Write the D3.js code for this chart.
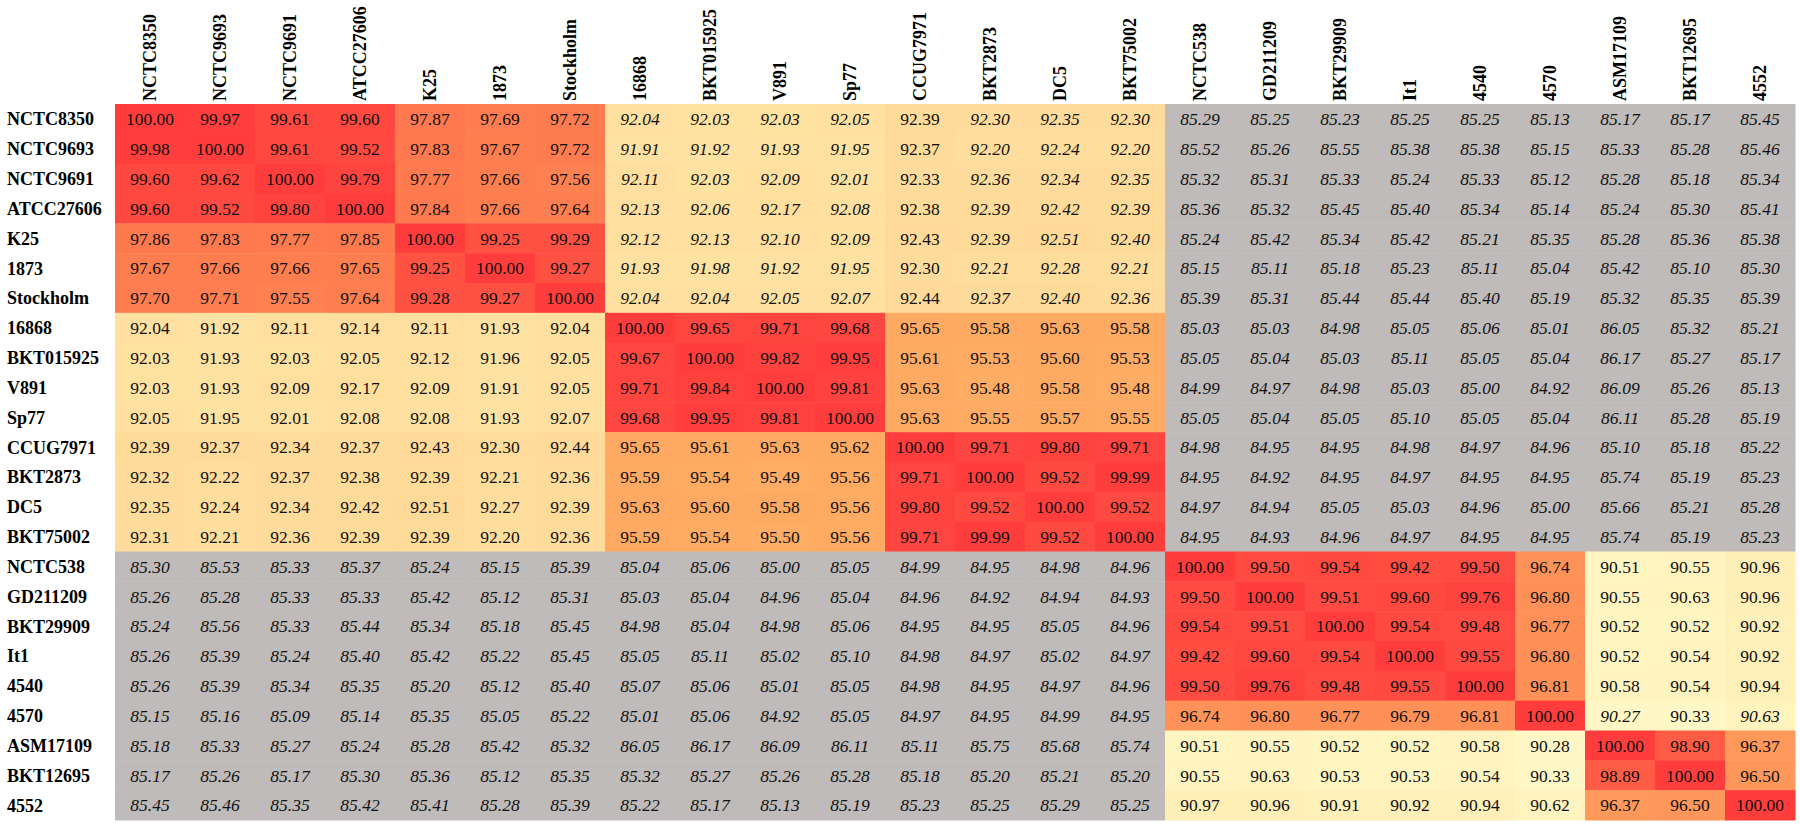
<!DOCTYPE html>
<html>
<head>
<meta charset="utf-8">
<script src="https://cdn.jsdelivr.net/npm/d3@7"></script>
<style>
  body { margin: 0; background: #fff; }
  svg { display: block; }
</style>
</head>
<body>
<svg id="heat" width="1800" height="828"></svg>
<script>
// strain names, same order on both axes
var strains = ["NCTC8350", "NCTC9693", "NCTC9691", "ATCC27606", "K25", "1873", "Stockholm",
  "16868", "BKT015925", "V891", "Sp77", "CCUG7971", "BKT2873", "DC5", "BKT75002",
  "NCTC538", "GD211209", "BKT29909", "It1", "4540", "4570", "ASM17109", "BKT12695", "4552"];

// ANI values (%), one row per strain
var ani = [
  [100.00, 99.97, 99.61, 99.60, 97.87, 97.69, 97.72, 92.04, 92.03, 92.03, 92.05, 92.39, 92.30, 92.35, 92.30, 85.29, 85.25, 85.23, 85.25, 85.25, 85.13, 85.17, 85.17, 85.45],
  [99.98, 100.00, 99.61, 99.52, 97.83, 97.67, 97.72, 91.91, 91.92, 91.93, 91.95, 92.37, 92.20, 92.24, 92.20, 85.52, 85.26, 85.55, 85.38, 85.38, 85.15, 85.33, 85.28, 85.46],
  [99.60, 99.62, 100.00, 99.79, 97.77, 97.66, 97.56, 92.11, 92.03, 92.09, 92.01, 92.33, 92.36, 92.34, 92.35, 85.32, 85.31, 85.33, 85.24, 85.33, 85.12, 85.28, 85.18, 85.34],
  [99.60, 99.52, 99.80, 100.00, 97.84, 97.66, 97.64, 92.13, 92.06, 92.17, 92.08, 92.38, 92.39, 92.42, 92.39, 85.36, 85.32, 85.45, 85.40, 85.34, 85.14, 85.24, 85.30, 85.41],
  [97.86, 97.83, 97.77, 97.85, 100.00, 99.25, 99.29, 92.12, 92.13, 92.10, 92.09, 92.43, 92.39, 92.51, 92.40, 85.24, 85.42, 85.34, 85.42, 85.21, 85.35, 85.28, 85.36, 85.38],
  [97.67, 97.66, 97.66, 97.65, 99.25, 100.00, 99.27, 91.93, 91.98, 91.92, 91.95, 92.30, 92.21, 92.28, 92.21, 85.15, 85.11, 85.18, 85.23, 85.11, 85.04, 85.42, 85.10, 85.30],
  [97.70, 97.71, 97.55, 97.64, 99.28, 99.27, 100.00, 92.04, 92.04, 92.05, 92.07, 92.44, 92.37, 92.40, 92.36, 85.39, 85.31, 85.44, 85.44, 85.40, 85.19, 85.32, 85.35, 85.39],
  [92.04, 91.92, 92.11, 92.14, 92.11, 91.93, 92.04, 100.00, 99.65, 99.71, 99.68, 95.65, 95.58, 95.63, 95.58, 85.03, 85.03, 84.98, 85.05, 85.06, 85.01, 86.05, 85.32, 85.21],
  [92.03, 91.93, 92.03, 92.05, 92.12, 91.96, 92.05, 99.67, 100.00, 99.82, 99.95, 95.61, 95.53, 95.60, 95.53, 85.05, 85.04, 85.03, 85.11, 85.05, 85.04, 86.17, 85.27, 85.17],
  [92.03, 91.93, 92.09, 92.17, 92.09, 91.91, 92.05, 99.71, 99.84, 100.00, 99.81, 95.63, 95.48, 95.58, 95.48, 84.99, 84.97, 84.98, 85.03, 85.00, 84.92, 86.09, 85.26, 85.13],
  [92.05, 91.95, 92.01, 92.08, 92.08, 91.93, 92.07, 99.68, 99.95, 99.81, 100.00, 95.63, 95.55, 95.57, 95.55, 85.05, 85.04, 85.05, 85.10, 85.05, 85.04, 86.11, 85.28, 85.19],
  [92.39, 92.37, 92.34, 92.37, 92.43, 92.30, 92.44, 95.65, 95.61, 95.63, 95.62, 100.00, 99.71, 99.80, 99.71, 84.98, 84.95, 84.95, 84.98, 84.97, 84.96, 85.10, 85.18, 85.22],
  [92.32, 92.22, 92.37, 92.38, 92.39, 92.21, 92.36, 95.59, 95.54, 95.49, 95.56, 99.71, 100.00, 99.52, 99.99, 84.95, 84.92, 84.95, 84.97, 84.95, 84.95, 85.74, 85.19, 85.23],
  [92.35, 92.24, 92.34, 92.42, 92.51, 92.27, 92.39, 95.63, 95.60, 95.58, 95.56, 99.80, 99.52, 100.00, 99.52, 84.97, 84.94, 85.05, 85.03, 84.96, 85.00, 85.66, 85.21, 85.28],
  [92.31, 92.21, 92.36, 92.39, 92.39, 92.20, 92.36, 95.59, 95.54, 95.50, 95.56, 99.71, 99.99, 99.52, 100.00, 84.95, 84.93, 84.96, 84.97, 84.95, 84.95, 85.74, 85.19, 85.23],
  [85.30, 85.53, 85.33, 85.37, 85.24, 85.15, 85.39, 85.04, 85.06, 85.00, 85.05, 84.99, 84.95, 84.98, 84.96, 100.00, 99.50, 99.54, 99.42, 99.50, 96.74, 90.51, 90.55, 90.96],
  [85.26, 85.28, 85.33, 85.33, 85.42, 85.12, 85.31, 85.03, 85.04, 84.96, 85.04, 84.96, 84.92, 84.94, 84.93, 99.50, 100.00, 99.51, 99.60, 99.76, 96.80, 90.55, 90.63, 90.96],
  [85.24, 85.56, 85.33, 85.44, 85.34, 85.18, 85.45, 84.98, 85.04, 84.98, 85.06, 84.95, 84.95, 85.05, 84.96, 99.54, 99.51, 100.00, 99.54, 99.48, 96.77, 90.52, 90.52, 90.92],
  [85.26, 85.39, 85.24, 85.40, 85.42, 85.22, 85.45, 85.05, 85.11, 85.02, 85.10, 84.98, 84.97, 85.02, 84.97, 99.42, 99.60, 99.54, 100.00, 99.55, 96.80, 90.52, 90.54, 90.92],
  [85.26, 85.39, 85.34, 85.35, 85.20, 85.12, 85.40, 85.07, 85.06, 85.01, 85.05, 84.98, 84.95, 84.97, 84.96, 99.50, 99.76, 99.48, 99.55, 100.00, 96.81, 90.58, 90.54, 90.94],
  [85.15, 85.16, 85.09, 85.14, 85.35, 85.05, 85.22, 85.01, 85.06, 84.92, 85.05, 84.97, 84.95, 84.99, 84.95, 96.74, 96.80, 96.77, 96.79, 96.81, 100.00, 90.27, 90.33, 90.63],
  [85.18, 85.33, 85.27, 85.24, 85.28, 85.42, 85.32, 86.05, 86.17, 86.09, 86.11, 85.11, 85.75, 85.68, 85.74, 90.51, 90.55, 90.52, 90.52, 90.58, 90.28, 100.00, 98.90, 96.37],
  [85.17, 85.26, 85.17, 85.30, 85.36, 85.12, 85.35, 85.32, 85.27, 85.26, 85.28, 85.18, 85.20, 85.21, 85.20, 90.55, 90.63, 90.53, 90.53, 90.54, 90.33, 98.89, 100.00, 96.50],
  [85.45, 85.46, 85.35, 85.42, 85.41, 85.28, 85.39, 85.22, 85.17, 85.13, 85.19, 85.23, 85.25, 85.29, 85.25, 90.97, 90.96, 90.91, 90.92, 90.94, 90.62, 96.37, 96.50, 100.00]
];

// cells printed in italic besides the grey ones: [row, col]
var italicCells = [[20, 21], [20, 23]];
var italicBlockRows = [0, 1, 2, 3, 4, 5, 6];          // first group rows ...
var italicBlockCols = [7, 8, 9, 10, 12, 13, 14];      // ... against these columns

var svg = d3.select("#heat");

var x = d3.scaleBand().domain(strains).range([115, 1795]);
var y = d3.scaleBand().domain(strains).range([104, 820]);

// below ~87 the sheet just greys the cell out
var heat = d3.scaleLinear()
  .domain([90.27, 92, 95.6, 97.7, 100])
  .range(["#fff8c6", "#ffe1a1", "#ffaa62", "#ff7d50", "#ff3d3d"])
  .clamp(true);
function cellColor(v) { return v < 87 ? "#c0bbbb" : heat(v); }

function isItalic(r, c, v) {
  if (v < 87) return true;
  if (italicBlockRows.indexOf(r) >= 0 && italicBlockCols.indexOf(c) >= 0) return true;
  return italicCells.some(function(p) { return p[0] == r && p[1] == c; });
}

var cells = [];
ani.forEach(function(row, r) {
  row.forEach(function(v, c) { cells.push({ r: r, c: c, v: v }); });
});

svg.append("g").selectAll("rect")
  .data(cells)
  .enter()
  .append("rect")
  .attr("x", function(d) { return x(strains[d.c]); })
  .attr("y", function(d) { return y(strains[d.r]); })
  .attr("width", x.bandwidth() + 0.5)
  .attr("height", y.bandwidth() + 0.5)
  .attr("fill", function(d) { return cellColor(d.v); });

svg.append("g").selectAll("text")
  .data(cells)
  .enter()
  .append("text")
  .attr("x", function(d) { return x(strains[d.c]) + x.bandwidth() / 2; })
  .attr("y", function(d) { return y(strains[d.r]) + y.bandwidth() / 2; })
  .attr("dy", "0.36em")
  .attr("text-anchor", "middle")
  .style("font-family", "'Liberation Serif', 'Times New Roman', serif")
  .style("font-size", "17.5px")
  .style("font-style", function(d) { return isItalic(d.r, d.c, d.v) ? "italic" : "normal"; })
  .attr("fill", "#111")
  .text(function(d) { return d.v.toFixed(2); });

// row labels
svg.append("g").selectAll("text")
  .data(strains)
  .enter()
  .append("text")
  .attr("x", 7)
  .attr("y", function(d) { return y(d) + y.bandwidth() / 2; })
  .attr("dy", "0.36em")
  .style("font-family", "'Liberation Serif', 'Times New Roman', serif")
  .style("font-size", "18px")
  .style("font-weight", "bold")
  .text(function(d) { return d; });

// column labels, rotated
svg.append("g").selectAll("text")
  .data(strains)
  .enter()
  .append("text")
  .attr("transform", function(d) {
    return "translate(" + (x(d) + x.bandwidth() / 2) + "," + 101 + ") rotate(-90)";
  })
  .attr("dy", "0.36em")
  .style("font-family", "'Liberation Serif', 'Times New Roman', serif")
  .style("font-size", "18px")
  .style("font-weight", "bold")
  .text(function(d) { return d; });
</script>
</body>
</html>
